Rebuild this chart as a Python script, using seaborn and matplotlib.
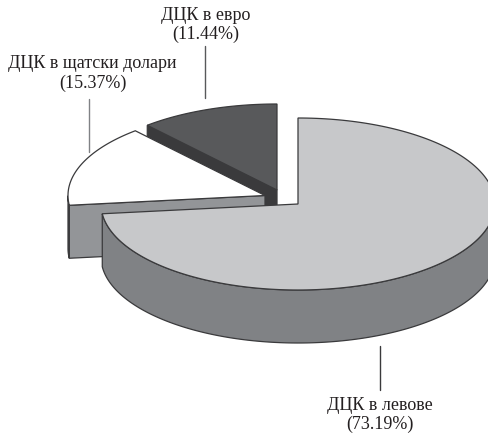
import numpy as np
import seaborn as sns
from matplotlib import pyplot as plt

sns.set_theme(style='white')
plt.rcParams['font.family'] = ['Liberation Serif', 'DejaVu Serif']

labels = ['ДЦК в левове', 'ДЦК в щатски долари', 'ДЦК в евро']
shares = [73.19, 15.37, 11.44]

top_colors = sns.color_palette(['#c7c8ca', '#ffffff', '#58595b'])
side_colors = sns.color_palette(['#808285', '#939598', '#3a3a3c'])
edge = '#3a3a3c'

# pie geometry, in image pixels
rx, ry, depth = 197, 86, 53
centers = [(298, 204), (265, 195.5), (277, 190)]


def arc(cx, cy, a0, a1, n=200):
    t = np.radians(np.linspace(a0, a1, n))
    return cx + rx * np.cos(t), cy - ry * np.sin(t)


fig = plt.figure(figsize=(4.89, 4.37), dpi=100)
ax = fig.add_axes([0, 0, 1, 1])
ax.set_xlim(0, 489)
ax.set_ylim(437, 0)
ax.axis('off')

# slices run clockwise from 12 o'clock
ends = 90 - np.cumsum(shares) * 3.6
starts = np.r_[90, ends[:-1]]

# back slices first so the big one sits on top
for i in [2, 1, 0]:
    cx, cy = centers[i]
    a0, a1 = starts[i], ends[i]
    x, y = arc(cx, cy, a0, a1)

    # flat cut face that looks towards the viewer
    if i > 0:
        ax.fill([x[0], cx, cx, x[0]], [y[0], cy, cy + depth, y[0] + depth],
                fc=side_colors[i], ec=edge, lw=0.9)

    # curved outer wall, only the front half of the rim shows
    front = np.linspace(a0, a1, 400)
    front = front[np.sin(np.radians(front)) <= 0]
    if len(front) > 1:
        wx, wy = arc(cx, cy, front[0], front[-1])
        ax.fill(np.r_[wx, wx[::-1]], np.r_[wy, wy[::-1] + depth],
                fc=side_colors[i], ec=edge, lw=0.9)

    ax.fill(np.r_[cx, x], np.r_[cy, y], fc=top_colors[i], ec=edge, lw=0.9)

# leader lines
ax.plot([379.5, 379.5], [346, 390], color='#3a3a3c', lw=1)
ax.plot([88.5, 88.5], [99, 152], color='#808285', lw=1)
ax.plot([205, 205], [46, 98], color='#58595b', lw=1)

label_pos = [(380, 415), (92.5, 73.5), (206, 25)]
for name, share, (tx, ty) in zip(labels, shares, label_pos):
    ax.text(tx, ty, f'{name}\n({share:.2f}%)', ha='center', va='center',
            fontsize=13, color='#231f20', linespacing=1.14)

fig.savefig('out.png', dpi=100)
